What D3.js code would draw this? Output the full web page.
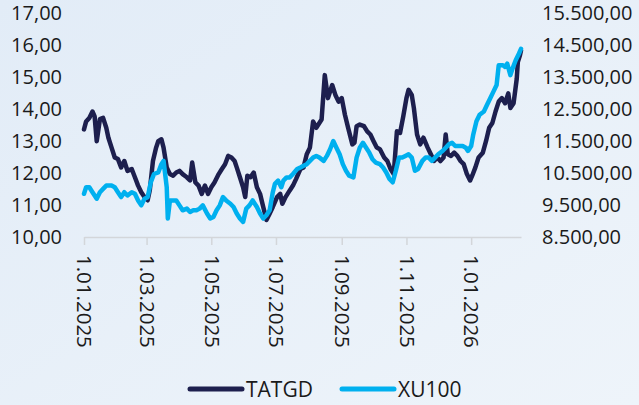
<!DOCTYPE html>
<html>
<head>
<meta charset="utf-8">
<script src="https://cdn.jsdelivr.net/npm/d3@7"></script>
<style>
  html, body { margin: 0; padding: 0; background: #e8f0f8; }
  svg { display: block; }
  text { font-family: "Open Sans", "Noto Sans", sans-serif; fill: #1a1a1a; }
</style>
</head>
<body>
<div id="chart"></div>
<script>
// TATGD (left axis) and XU100 (right axis)
const tatgdDates = [
  "2025-01-01","2025-01-03","2025-01-06","2025-01-09","2025-01-11","2025-01-13","2025-01-16","2025-01-19","2025-01-22","2025-01-24",
  "2025-01-27","2025-01-30","2025-02-02","2025-02-05","2025-02-08","2025-02-11","2025-02-15","2025-02-18","2025-02-21","2025-02-24",
  "2025-02-27","2025-03-02","2025-03-04","2025-03-07","2025-03-10","2025-03-12","2025-03-15","2025-03-17","2025-03-20","2025-03-23",
  "2025-03-26","2025-03-29","2025-04-01","2025-04-04","2025-04-08","2025-04-11","2025-04-13","2025-04-16","2025-04-19","2025-04-22",
  "2025-04-25","2025-04-28","2025-05-01","2025-05-04","2025-05-08","2025-05-11","2025-05-14","2025-05-17","2025-05-20","2025-05-23",
  "2025-05-25","2025-05-28","2025-05-31","2025-06-02","2025-06-04","2025-06-07","2025-06-10","2025-06-13","2025-06-16","2025-06-19",
  "2025-06-22","2025-06-25","2025-06-28","2025-07-02","2025-07-05","2025-07-07","2025-07-10","2025-07-14","2025-07-17","2025-07-20",
  "2025-07-24","2025-07-27","2025-07-30","2025-08-02","2025-08-05","2025-08-08","2025-08-13","2025-08-16","2025-08-19","2025-08-23",
  "2025-08-26","2025-08-29","2025-09-01","2025-09-04","2025-09-07","2025-09-11","2025-09-13","2025-09-15","2025-09-18","2025-09-22",
  "2025-09-25","2025-09-28","2025-10-01","2025-10-04","2025-10-07","2025-10-11","2025-10-14","2025-10-17","2025-10-20","2025-10-23",
  "2025-10-26","2025-10-29","2025-11-01","2025-11-03","2025-11-06","2025-11-08","2025-11-11","2025-11-14","2025-11-17","2025-11-21",
  "2025-11-24","2025-11-27","2025-11-30","2025-12-03","2025-12-06","2025-12-08","2025-12-10","2025-12-13","2025-12-16","2025-12-19",
  "2025-12-22","2025-12-25","2025-12-28","2025-12-31","2026-01-02","2026-01-05","2026-01-08","2026-01-12","2026-01-15","2026-01-18",
  "2026-01-21","2026-01-24","2026-01-27","2026-01-30","2026-02-02","2026-02-05","2026-02-07","2026-02-10","2026-02-13","2026-02-14",
  "2026-02-16","2026-02-17"
];
const tatgdValues = [
  13.37,13.62,13.73,13.93,13.78,13.00,13.69,13.73,13.42,13.11,
  12.80,12.49,12.44,12.18,12.38,12.07,12.13,11.87,11.61,11.40,
  11.25,11.15,11.46,12.38,12.80,13.00,13.06,12.80,12.18,11.97,
  11.92,12.02,12.07,11.97,11.87,11.77,12.33,11.71,11.61,11.35,
  11.61,11.35,11.56,11.71,11.97,12.13,12.28,12.54,12.49,12.38,
  12.18,11.87,11.56,11.25,11.92,11.87,12.02,11.56,11.35,10.94,
  10.53,10.73,10.94,11.25,11.35,11.04,11.25,11.46,11.61,11.82,
  12.13,12.18,12.59,12.80,13.62,13.42,13.68,15.07,14.35,14.76,
  14.45,14.24,14.35,13.83,13.42,12.90,12.95,13.47,13.52,13.47,
  13.31,13.21,13.00,12.80,12.75,12.49,12.38,12.13,11.97,13.31,
  13.26,13.78,14.35,14.61,14.45,14.04,13.21,12.90,13.11,12.80,
  12.59,12.38,12.49,12.38,12.49,13.21,12.59,12.54,12.64,12.54,
  12.38,12.28,11.97,11.77,11.92,12.18,12.49,12.64,13.00,13.42,
  13.57,13.93,14.24,14.35,14.19,14.50,14.04,14.19,14.96,15.48,
  15.69,15.84
];

const xuDates = [
  "2025-01-01","2025-01-03","2025-01-06","2025-01-09","2025-01-13","2025-01-16","2025-01-19","2025-01-22","2025-01-27","2025-01-30",
  "2025-02-02","2025-02-05","2025-02-08","2025-02-11","2025-02-15","2025-02-18","2025-02-21","2025-02-24","2025-02-27","2025-03-02",
  "2025-03-05","2025-03-08","2025-03-12","2025-03-15","2025-03-17","2025-03-20","2025-03-21","2025-03-23","2025-03-26","2025-03-29",
  "2025-04-01","2025-04-04","2025-04-08","2025-04-11","2025-04-14","2025-04-17","2025-04-20","2025-04-23","2025-04-27","2025-04-30",
  "2025-05-03","2025-05-06","2025-05-09","2025-05-12","2025-05-15","2025-05-19","2025-05-22","2025-05-25","2025-05-28","2025-05-31",
  "2025-06-03","2025-06-06","2025-06-09","2025-06-13","2025-06-16","2025-06-19","2025-06-22","2025-06-25","2025-06-28","2025-06-30",
  "2025-07-03","2025-07-06","2025-07-08","2025-07-11","2025-07-14","2025-07-17","2025-07-21","2025-07-24","2025-07-27","2025-07-30",
  "2025-08-02","2025-08-05","2025-08-08","2025-08-11","2025-08-15","2025-08-18","2025-08-21","2025-08-24","2025-08-27","2025-08-30",
  "2025-09-02","2025-09-05","2025-09-08","2025-09-12","2025-09-15","2025-09-18","2025-09-21","2025-09-24","2025-09-27","2025-09-30",
  "2025-10-03","2025-10-07","2025-10-10","2025-10-13","2025-10-16","2025-10-19","2025-10-22","2025-10-25","2025-10-28","2025-10-31",
  "2025-11-03","2025-11-06","2025-11-09","2025-11-12","2025-11-16","2025-11-19","2025-11-22","2025-11-25","2025-11-28","2025-12-01",
  "2025-12-05","2025-12-08","2025-12-11","2025-12-14","2025-12-17","2025-12-20","2025-12-24","2025-12-27","2025-12-29","2026-01-01",
  "2026-01-03","2026-01-06","2026-01-09","2026-01-13","2026-01-16","2026-01-19","2026-01-22","2026-01-25","2026-01-27","2026-01-31",
  "2026-02-02","2026-02-04","2026-02-07","2026-02-09","2026-02-12","2026-02-15","2026-02-17"
];
const xuValues = [
  9853,10058,10058,9903,9698,9903,10008,10110,10110,10058,
  9903,9748,9903,9801,9903,9853,9646,9491,9698,9748,
  10213,10473,10522,10782,10885,10058,9079,9646,9646,9646,
  9491,9336,9389,9284,9336,9336,9389,9491,9234,9079,
  9129,9336,9491,9748,9646,9544,9438,9234,9079,8974,
  9389,9491,9646,9438,9234,9079,9181,9336,9903,10163,
  10265,10058,10265,10367,10367,10473,10628,10677,10730,10782,
  10885,10987,11040,10987,10885,11040,11247,11504,11297,11092,
  10782,10575,10420,10367,10987,11297,11451,11297,11142,10937,
  10832,10782,10677,10522,10318,10213,10575,10987,10987,11040,
  11092,10987,10575,10628,10885,10987,10987,10885,10987,11092,
  11194,11297,11402,11451,11349,11349,11349,11297,11194,11349,
  11712,12123,12331,12433,12641,12845,13053,13260,13879,13879,
  13827,13929,13570,13774,14034,14239,14393
];

const leftTicks = [10, 11, 12, 13, 14, 15, 16, 17];
const rightTicks = [8500, 9500, 10500, 11500, 12500, 13500, 14500, 15500];
const xTicks = ["2025-01-01","2025-03-01","2025-05-01","2025-07-01","2025-09-01","2025-11-01","2026-01-01"];
const seriesNames = ["TATGD", "XU100"];

const navy = "#1d1f4e";
const sky = "#00b0ef";

const W = 639, H = 405;
const margin = { top: 13.5, right: 118, bottom: 168, left: 84 };
const innerW = W - margin.left - margin.right,
      innerH = H - margin.top - margin.bottom;

const parse = d3.timeParse("%Y-%m-%d");
const tr = d3.formatLocale({ decimal: ",", thousands: ".", grouping: [3], currency: ["", ""] });
const fmt = tr.format(",.2f");

const tatgd = tatgdDates.map((d, i) => ({ date: parse(d), value: tatgdValues[i] }));
const xu = xuDates.map((d, i) => ({ date: parse(d), value: xuValues[i] }));

const svg = d3.select("#chart").append("svg")
    .attr("width", W)
    .attr("height", H);

// background
const defs = svg.append("defs");
const grad = defs.append("linearGradient")
    .attr("id", "bg")
    .attr("x1", "0").attr("y1", "0").attr("x2", "1").attr("y2", "1");
grad.append("stop").attr("offset", "0%").attr("stop-color", "#e2ecf7");
grad.append("stop").attr("offset", "100%").attr("stop-color", "#eef4fa");
svg.append("rect").attr("width", W).attr("height", H).attr("fill", "url(#bg)");

const g = svg.append("g").attr("transform", `translate(${margin.left},${margin.top})`);

const x = d3.scaleTime()
    .domain([parse("2025-01-01"), parse("2026-02-17")])
    .range([0, innerW]);
const yL = d3.scaleLinear().domain([10, 17]).range([innerH, 0]);
const yR = d3.scaleLinear().domain([8500, 15500]).range([innerH, 0]);

// x axis
const xAxis = g.append("g")
    .attr("transform", `translate(0,${innerH})`)
    .call(d3.axisBottom(x)
        .tickValues(xTicks.map(parse))
        .tickSize(8)
        .tickSizeOuter(0)
        .tickFormat(d3.timeFormat("%-d.%m.%Y")));
xAxis.select(".domain").attr("stroke", "#d3d6da").attr("stroke-width", 1.5);
xAxis.selectAll(".tick line").attr("stroke", "#d3d6da").attr("stroke-width", 1.5);
xAxis.selectAll(".tick text")
    .attr("y", 0)
    .attr("x", 18)
    .attr("dy", "0.35em")
    .attr("transform", "rotate(90)")
    .attr("text-anchor", "start")
    .style("font-size", "20.5px")
    .attr("fill", "#1a1a1a");

// left axis
const left = g.append("g")
    .call(d3.axisLeft(yL).tickValues(leftTicks).tickSize(0).tickPadding(22).tickFormat(fmt));
left.select(".domain").remove();
left.selectAll("text").style("font-size", "20px").attr("fill", "#1a1a1a");

// right axis
const right = g.append("g")
    .attr("transform", `translate(${innerW},0)`)
    .call(d3.axisRight(yR).tickValues(rightTicks).tickSize(0).tickPadding(21).tickFormat(fmt));
right.select(".domain").remove();
right.selectAll("text").style("font-size", "20px").attr("fill", "#1a1a1a");

// lines
const lineL = d3.line().x(d => x(d.date)).y(d => yL(d.value));
const lineR = d3.line().x(d => x(d.date)).y(d => yR(d.value));

g.append("path")
    .datum(tatgd)
    .attr("d", lineL)
    .attr("fill", "none")
    .attr("stroke", navy)
    .attr("stroke-width", 4.5)
    .attr("stroke-linejoin", "round")
    .attr("stroke-linecap", "round");

g.append("path")
    .datum(xu)
    .attr("d", lineR)
    .attr("fill", "none")
    .attr("stroke", sky)
    .attr("stroke-width", 4.5)
    .attr("stroke-linejoin", "round")
    .attr("stroke-linecap", "round");

// legend
const legend = svg.append("g").attr("transform", "translate(188,389)");
const legendX = [0, 152];
const legendColors = [navy, sky];
seriesNames.forEach((name, i) => {
    const item = legend.append("g").attr("transform", `translate(${legendX[i]},0)`);
    item.append("line")
        .attr("x1", 2).attr("x2", 54)
        .attr("y1", 0).attr("y2", 0)
        .attr("stroke", legendColors[i])
        .attr("stroke-width", 5)
        .attr("stroke-linecap", "round");
    item.append("text")
        .attr("x", 58)
        .attr("y", 0)
        .attr("dy", "0.36em")
        .style("font-size", "21px")
        .text(name);
});
</script>
</body>
</html>
